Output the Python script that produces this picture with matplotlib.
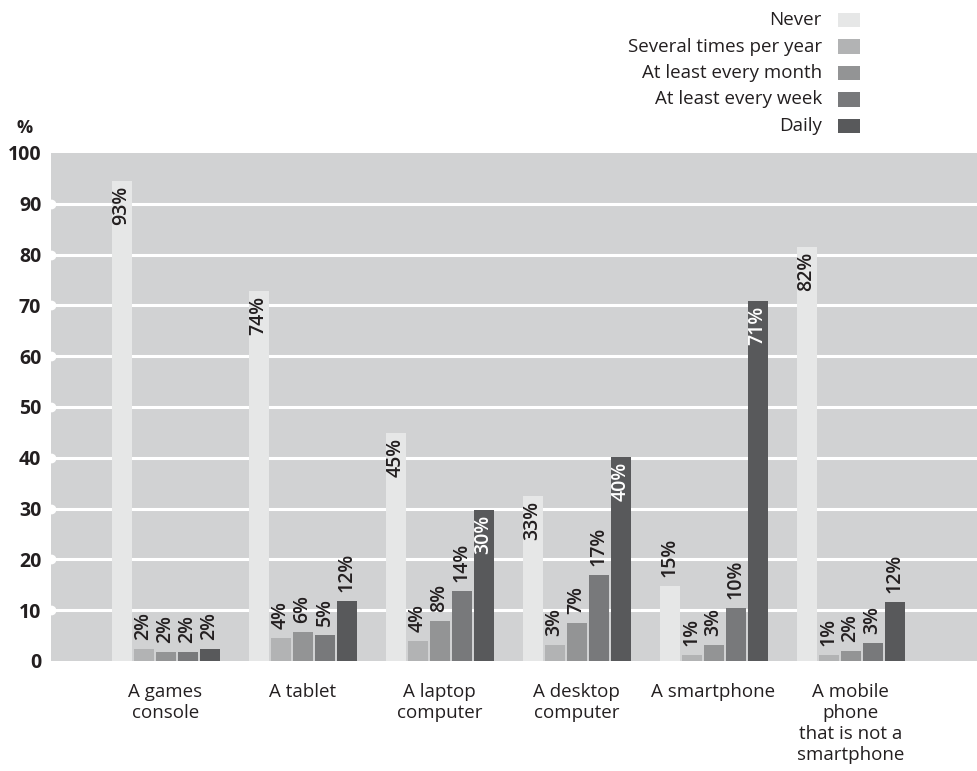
import matplotlib.pyplot as plt
import numpy as np
from matplotlib.patches import Rectangle

plt.rcParams["font.family"] = ["Open Sans", "DejaVu Sans"]

categories = [
    "A games\nconsole",
    "A tablet",
    "A laptop\ncomputer",
    "A desktop\ncomputer",
    "A smartphone",
    "A mobile\nphone\nthat is not a\nsmartphone",
]
series = ["Never", "Several times per year", "At least every month",
          "At least every week", "Daily"]
colors = ["#e6e7e7", "#b2b3b4", "#939495", "#78797b", "#58595b"]

# bar heights as drawn, one list per category (Never .. Daily)
heights = [
    [94.5, 2.4, 1.8, 1.8, 2.4],
    [72.9, 4.5, 5.7, 5.1, 11.8],
    [44.8, 3.9, 7.9, 13.8, 29.7],
    [32.4, 3.1, 7.5, 16.9, 40.1],
    [14.7, 1.2, 3.1, 10.4, 70.9],
    [81.5, 1.2, 2.0, 3.5, 11.6],
]
# printed labels
labels = [
    ["93%", "2%", "2%", "2%", "2%"],
    ["74%", "4%", "6%", "5%", "12%"],
    ["45%", "4%", "8%", "14%", "30%"],
    ["33%", "3%", "7%", "17%", "40%"],
    ["15%", "1%", "3%", "10%", "71%"],
    ["82%", "1%", "2%", "3%", "12%"],
]
yticks = [0, 10, 20, 30, 40, 50, 60, 70, 80, 90, 100]


def main():
    W, H = 978, 771
    fig = plt.figure(figsize=(W / 100, H / 100), dpi=100)
    ax = fig.add_axes([51 / W, (H - 661) / H, (W - 51) / W, (661 - 153) / H])
    ax.set_facecolor("#d1d2d3")

    pitch = 22 / 137
    width = 20 / 137
    xlo, xhi = (51 - 165.5) / 137, (978 - 165.5) / 137

    for y in yticks[1:-1]:
        ax.axhline(y, color="white", lw=2.2, zorder=1)
        ax.plot([xlo], [y], "o", color="white", ms=6, zorder=1, clip_on=True)

    x = np.arange(len(categories))
    for j, name in enumerate(series):
        xs = x + (j - 2) * pitch
        vals = [h[j] for h in heights]
        ax.bar(xs, vals, width=width, color=colors[j], zorder=2, label=name)
        for xi, v, lab in zip(xs, vals, [l[j] for l in labels]):
            if v > 20:
                c = "white" if j == 4 else "#231f20"
                ax.text(xi, v - 1.0, lab, rotation=90, ha="center", va="top",
                        fontsize=14, fontweight="semibold", color=c, zorder=3)
            else:
                ax.text(xi, v + 1.8, lab, rotation=90, ha="center", va="bottom",
                        fontsize=14, fontweight="semibold", color="#231f20",
                        zorder=3)

    ax.set_xlim(xlo, xhi)
    ax.set_ylim(0, 100)
    ax.set_yticks(yticks)
    ax.set_yticklabels([str(t) for t in yticks], fontsize=14, fontweight="bold",
                       color="#231f20")
    ax.tick_params(axis="y", length=0, pad=7)
    ax.set_xticks(x)
    ax.set_xticklabels(categories, fontsize=13.5, color="#231f20", linespacing=1.22)
    ax.tick_params(axis="x", length=0, pad=16)
    for s in ax.spines.values():
        s.set_visible(False)

    fig.text(25 / W, 1 - 128 / H, "%", fontsize=13, fontweight="bold",
             ha="center", va="center", color="#231f20")

    # legend, text right-aligned left of the swatch
    for k, name in enumerate(series):
        yc = 20 + k * 26.5
        fig.text(822 / W, 1 - yc / H, name, ha="right", va="center",
                 fontsize=13.5, color="#231f20")
        fig.add_artist(Rectangle((838 / W, 1 - (yc + 7) / H), 22 / W, 14 / H,
                                 transform=fig.transFigure,
                                 facecolor=colors[k], edgecolor="none"))

    fig.savefig("out.png", dpi=100)


if __name__ == "__main__":
    main()
